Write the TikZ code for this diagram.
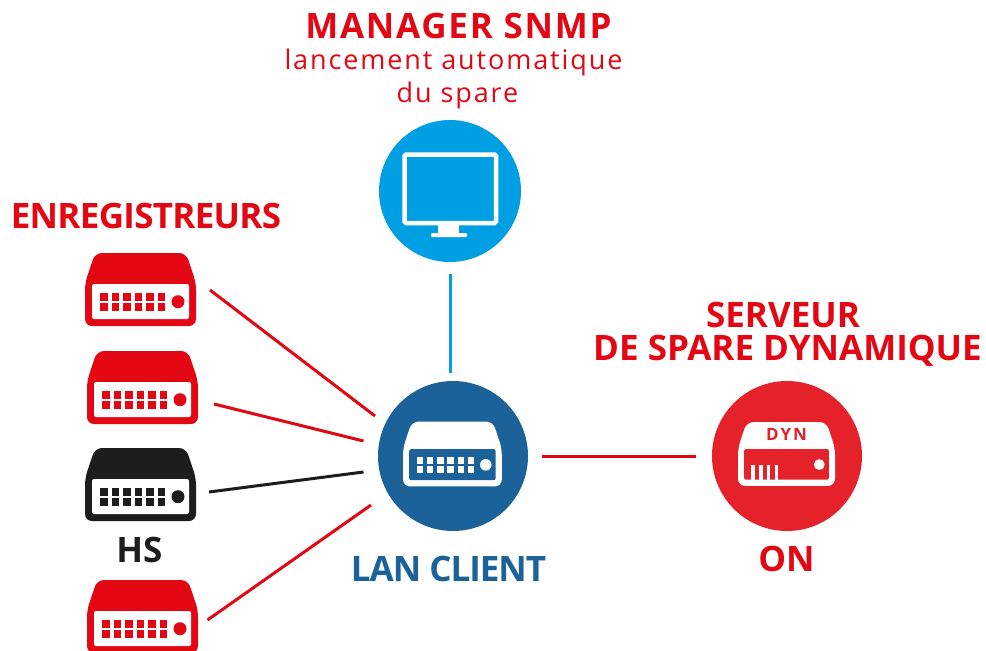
\documentclass[tikz,border=0pt]{standalone}
\usepackage{fontspec}
\setmainfont{Open Sans}
\usetikzlibrary{positioning}
\definecolor{recred}{HTML}{E30613}
\definecolor{dynred}{HTML}{E52229}
\definecolor{lanblue}{HTML}{1A6299}
\definecolor{mgrblue}{HTML}{009FE3}
\definecolor{hsblack}{HTML}{1D1D1B}
\newfontfamily\spaced[LetterSpace=5]{Open Sans}
\newfontfamily\wide[LetterSpace=7]{Open Sans}
\newfontfamily\tight[LetterSpace=-2]{Open Sans}
\newfontfamily\tighter[LetterSpace=-3]{Open Sans}
\newfontfamily\dynfont[LetterSpace=12]{Open Sans}
\tikzset{
  hub/.style={circle,inner sep=0pt,minimum size=150pt},
  title/.style={anchor=base,inner sep=0pt,font=\fontsize{35}{35}\selectfont\bfseries},
  subtitle/.style={anchor=base,inner sep=0pt,text=recred,font=\fontsize{27}{27}\selectfont\wide},
  link/.style={line width=3pt},
}
\begin{document}
\begin{tikzpicture}[x=1pt,y=-1pt]
\useasboundingbox (0,0) rectangle (986,651);
% housing: #1 body colour, #2 panel colour
\newcommand\Housing[2]{
\fill [#1, rounded corners=7pt] (0,73) -- (0,30) -- (10,0) -- (101,0) -- (111,30) -- (111,73) -- cycle;
\fill [#2, rounded corners=2pt] (7,31) rectangle (104,66);
}
% recorder: #1 top left, #2 scale, #3 body colour, #4 panel colour
\newcommand\Recorder[4]{
\begin{scope}[shift={(#1)},scale=#2]
\Housing{#3}{#4}
\foreach \col in {0,...,5} {
  \fill [#3] (15.3+11.5*\col,40) rectangle +(7.4,7.6);
  \fill [#3] (15.3+11.5*\col,50.2) rectangle +(7.4,7.6);
}
\fill [#3] (93,48.7) circle (6.5);
\end{scope}
}

% discs
\node [hub,fill=mgrblue,minimum size=142pt] (manager) at (450,191) {};
\node [hub,fill=lanblue] (lan) at (453,456) {};
\node [hub,fill=dynred] (spare) at (787,456) {};

% monitor
\draw [white,line width=4.5pt,rounded corners=1.5pt] (404.5,154.5) rectangle (496,223);
\fill [white] (438,225) rectangle (459,233);
\fill [white,rounded corners=1pt] (431,233) rectangle (467,237);

% recorders
\Recorder{85,253}{1}{recred}{white}
\Recorder{87,351}{1}{recred}{white}
\Recorder{85,448}{1}{hsblack}{white}
\Recorder{87,580}{1}{recred}{white}
\Recorder{403,421.5}{0.89}{white}{lanblue}

% spare server
\begin{scope}[shift={(738,422)},scale=0.874]
\Housing{white}{dynred}
\foreach \col in {0,...,3} {
  \fill [white] (15.4+8.9*\col,48.9) rectangle +(3.8,17.1);
}
\fill [white] (93,48.7) circle (6.2);
\node [inner sep=0pt,anchor=base,text=dynred,font=\fontsize{17}{17}\selectfont\bfseries\dynfont] (dyn) at (55.5,21.7) {DYN};
\end{scope}

% connector ends
\coordinate (recA) at (210,290);
\coordinate (recB) at (214,404);
\coordinate (recC) at (209,492);
\coordinate (recD) at (207.5,620);
\coordinate (lanA) at (375,416);
\coordinate (lanB) at (363.5,441);
\coordinate (lanC) at (363.5,472);
\coordinate (lanD) at (371,505);
\coordinate (mgrS) at (450,274);
\coordinate (lanN) at (450,373);
\coordinate (lanE) at (542,456.5);
\coordinate (dynW) at (696,456.5);

\draw [link,recred] (recA) -- (lanA);
\draw [link,recred] (recB) -- (lanB);
\draw [link,hsblack] (recC) -- (lanC);
\draw [link,recred] (recD) -- (lanD);
\draw [link,mgrblue] (mgrS) -- (lanN);
\draw [link,recred] (lanE) -- (dynW);

% labels
\node [title,text=recred,font=\fontsize{35}{35}\selectfont\bfseries\spaced] (mgrtitle) at (458.5,38) {MANAGER SNMP};
\node [subtitle] (mgrsubA) at (453.5,69) {lancement automatique};
\node [subtitle] (mgrsubB) at (457.5,102) {du spare};
\node [title,text=recred,font=\fontsize{35}{35}\selectfont\bfseries\tight] (rectitle) at (146,228) {ENREGISTREURS};
\node [title,text=recred] (sparetitleA) at (783,327) {SERVEUR};
\node [title,text=recred] (sparetitleB) at (787.5,360) {DE SPARE DYNAMIQUE};
\node [title,text=hsblack] (hs) at (139.5,562) {HS};
\node [title,text=lanblue,font=\fontsize{35}{35}\selectfont\bfseries\tighter] (lantitle) at (448.5,581) {LAN CLIENT};
\node [title,text=recred] (on) at (786.5,571) {ON};
\end{tikzpicture}
\end{document}
